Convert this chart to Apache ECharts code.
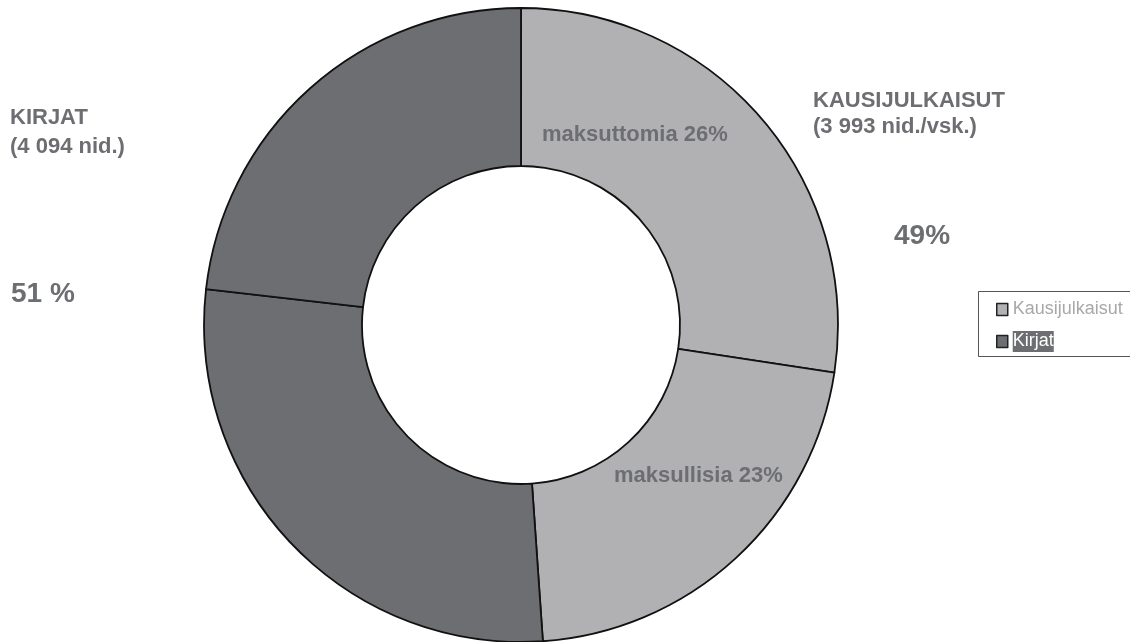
<!DOCTYPE html>
<html><head><meta charset="utf-8">
<script src="https://cdn.jsdelivr.net/npm/echarts@6/dist/echarts.min.js"></script>
<style>html,body{margin:0;padding:0;background:#fff}#c{width:1130px;height:642px}</style>
</head><body><div id="c"></div>
<script>
// Slice data (share of ring), start at top, clockwise
const sliceNames = ['Kausijulkaisut', 'Kausijulkaisut', 'Kirjat', 'Kirjat'];
const sliceValues = [27.4, 21.5, 27.9, 23.2];
const sliceColors = ['#b1b1b4', '#b1b1b4', '#6d6e71', '#6d6e71'];
const legendNames = ['Kausijulkaisut', 'Kirjat'];
const annotations = [
  { text: 'KIRJAT', x: 10, y: 107, size: 22 },
  { text: '(4 094 nid.)', x: 10, y: 136, size: 22 },
  { text: '51 %', x: 11, y: 280, size: 28 },
  { text: 'KAUSIJULKAISUT', x: 813, y: 90, size: 22 },
  { text: '(3 993 nid./vsk.)', x: 813, y: 116, size: 22 },
  { text: '49%', x: 894, y: 222, size: 28 },
  { text: 'maksuttomia 26%', x: 542, y: 124, size: 22 },
  { text: 'maksullisia 23%', x: 614, y: 465, size: 22 }
];

const chart = echarts.init(document.getElementById('c'), null, { renderer: 'canvas' });
chart.setOption({
  animation: false,
  legend: {
    data: legendNames.map((n, i) => i === 1
      ? { name: n, textStyle: { color: '#ffffff', backgroundColor: '#6d6e71' } }
      : { name: n, textStyle: { color: '#a8a8a8' } }),
    orient: 'vertical',
    left: 996, top: 299,
    padding: 0,
    itemWidth: 11, itemHeight: 12, itemGap: 11,
    icon: 'rect',
    selectedMode: false,
    itemStyle: { borderColor: '#222', borderWidth: 1.5 },
    textStyle: { fontFamily: 'Liberation Sans', fontSize: 18, lineHeight: 21 }
  },
  graphic: [
    { type: 'rect', shape: { x: 978.5, y: 291.5, width: 170, height: 65 },
      style: { fill: '#fff', stroke: '#555', lineWidth: 1 }, z: -1 }
  ].concat(annotations.map(a => ({
    type: 'text', x: a.x, y: a.y, z: 10,
    style: { text: a.text, fill: '#6d6e71', font: 'bold ' + a.size + 'px "Liberation Sans", Arial, sans-serif', textVerticalAlign: 'top' }
  }))),
  series: [{
    type: 'pie',
    center: [521, 325],
    radius: [159, 317],
    startAngle: 90,
    clockwise: true,
    avoidLabelOverlap: false,
    label: { show: false },
    labelLine: { show: false },
    emphasis: { disabled: true },
    itemStyle: { borderColor: '#111', borderWidth: 1.8 },
    data: sliceValues.map((v, i) => ({ name: sliceNames[i], value: v, itemStyle: { color: sliceColors[i] } }))
  }]
});
</script></body></html>
